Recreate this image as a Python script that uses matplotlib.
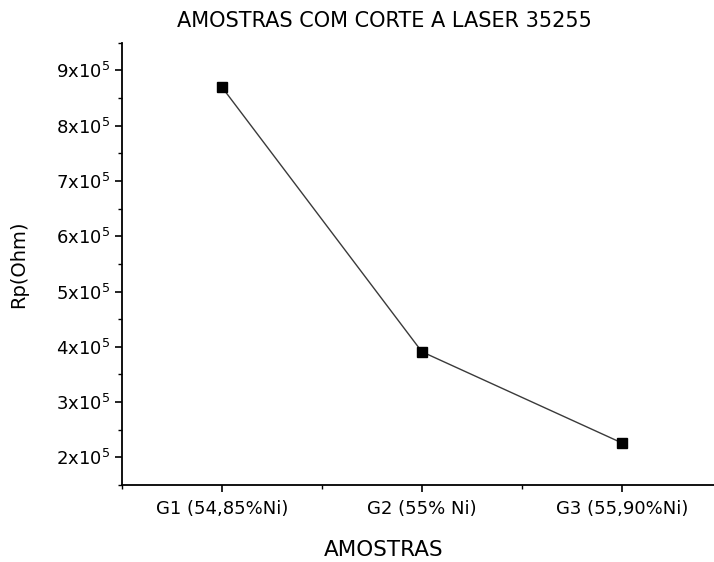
import matplotlib

matplotlib.use("Agg")

import matplotlib.pyplot as plt
from matplotlib.ticker import FixedLocator, MultipleLocator

# scanned original looks like a wide Arial; DejaVu Sans gets closest on width and height
plt.rcParams["font.family"] = ["DejaVu Sans"]
plt.rcParams["mathtext.fontset"] = "dejavusans"

samples = ["G1 (54,85%Ni)", "G2 (55% Ni)", "G3 (55,90%Ni)"]
rp_ohm = [8.70e5, 3.91e5, 2.26e5]
y_ticks = [2e5, 3e5, 4e5, 5e5, 6e5, 7e5, 8e5, 9e5]
y_tick_labels = [f"{int(v / 1e5)}x10$^5$" for v in y_ticks]

fig = plt.figure(figsize=(7.14, 5.62), dpi=100)
ax = fig.add_axes([0.1705, 0.137, 0.8408, 0.787])

x = list(range(len(samples)))
ax.plot(x, rp_ohm, color="#3a3a3a", linewidth=1.0, marker="s", markersize=6.5,
        markerfacecolor="black", markeredgecolor="black", zorder=3)

ax.set_xlim(-0.5, 2.5)
ax.set_ylim(1.5e5, 9.5e5)
ax.set_xticks(x)
ax.set_xticklabels(samples, fontsize=13)
ax.xaxis.set_minor_locator(FixedLocator([-0.5, 0.5, 1.5]))
ax.set_yticks(y_ticks)
ax.set_yticklabels(y_tick_labels, fontsize=13)
ax.yaxis.set_minor_locator(MultipleLocator(0.5e5))

ax.spines["top"].set_visible(False)
ax.spines["right"].set_visible(False)
ax.spines["left"].set_linewidth(1.3)
ax.spines["bottom"].set_linewidth(1.3)
ax.tick_params(which="major", direction="out", length=5, width=1.2, pad=3)
ax.tick_params(which="minor", direction="out", length=3, width=1.0)
ax.tick_params(axis="x", which="major", pad=6)

fig.text(0.538, 0.962, "AMOSTRAS COM CORTE A LASER 35255", ha="center", va="center", fontsize=15)
fig.text(0.537, 0.022, "AMOSTRAS", ha="center", va="center", fontsize=15.5)
fig.text(0.026, 0.53, "Rp(Ohm)", ha="center", va="center", rotation=90, fontsize=14)

fig.savefig("out.png", dpi=100)
plt.close(fig)
